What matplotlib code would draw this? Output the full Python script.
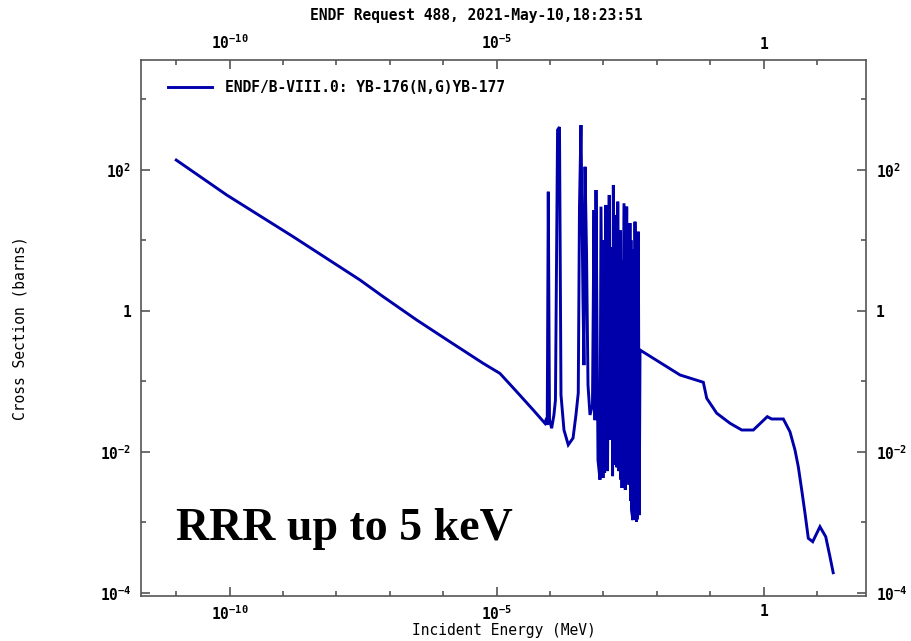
#!/usr/bin/env python3

import math
import matplotlib
matplotlib.use('Agg')
import matplotlib.pyplot as plt
from matplotlib.ticker import FixedLocator, FuncFormatter, NullFormatter

# values, energy in MeV, cross section in barns
energy = [
    1.0e-11, 8.8e-11, 1.55e-9, 2.75e-8, 7.5e-8, 3.18e-7, 1.33e-6, 5.6e-6,
    1.15e-5, 2.37e-5, 4.84e-5, 8.0e-5,
    # resolved resonance region
    8.6e-5, 8.84e-5, 9.25e-5, 9.75e-5, 1.07e-4, 1.18e-4, 1.26e-4, 1.38e-4,
    1.50e-4, 1.60e-4, 1.82e-4, 2.19e-4, 2.69e-4, 3.05e-4, 3.37e-4, 3.55e-4,
    3.79e-4, 4.13e-4, 4.31e-4, 4.51e-4, 4.81e-4, 5.13e-4, 5.59e-4, 6.22e-4,
    6.64e-4, 6.93e-4, 7.24e-4, 7.89e-4, 8.60e-4, 8.98e-4, 9.79e-4, 1.01e-3,
    1.05e-3, 1.11e-3, 1.19e-3, 1.28e-3, 1.35e-3, 1.43e-3, 1.48e-3, 1.53e-3,
    1.60e-3, 1.71e-3, 1.78e-3, 1.85e-3, 1.95e-3, 2.08e-3, 2.12e-3, 2.15e-3,
    2.22e-3, 2.42e-3, 2.56e-3, 2.72e-3, 2.81e-3, 2.91e-3, 3.00e-3, 3.13e-3,
    3.20e-3, 3.27e-3, 3.34e-3, 3.56e-3, 3.69e-3, 3.78e-3, 3.89e-3, 4.15e-3,
    4.24e-3, 4.32e-3, 4.49e-3, 4.67e-3,
    # unresolved / fast region
    4.83e-3, 2.71e-2, 7.40e-2, 8.57e-2, 0.132, 0.234, 0.388, 0.639, 1.167,
    1.41, 2.33, 3.10, 3.85, 4.44, 5.15, 5.93, 6.84, 8.27, 11.3, 14.5, 17.4,
    20.0,
]
xs = [
    137.0, 43.8, 11.2, 2.73, 1.58, 0.738, 0.363, 0.179,
    0.129, 0.071, 0.039, 0.0253,
    0.030, 0.0239, 48.7, 0.0282, 0.0215, 0.0332, 0.054, 366.0,
    403.0, 0.064, 0.0203, 0.0125, 0.0156, 0.0332, 0.068, 29.6,
    430.0, 1.42, 0.169, 110.0, 6.8, 0.088, 0.0332, 0.046,
    26.8, 0.028, 51.5, 0.0076, 0.0040, 29.9, 0.00424, 10.0,
    0.0050, 31.6, 0.0053, 43.8, 0.0147, 8.0, 0.0045, 60.7,
    0.0065, 22.8, 0.0060, 35.2, 0.0053, 13.7, 0.0040, 5.2,
    0.00306, 33.4, 0.00287, 29.9, 0.0040, 5.75, 0.0034, 17.5,
    0.0020, 10.0, 0.00149, 0.00107, 7.3, 0.0011, 18.3, 0.00101,
    11.8, 0.0011, 13.2, 0.00126,
    0.277, 0.1225, 0.0965, 0.0572, 0.0351, 0.0253, 0.0203, 0.0203, 0.0314,
    0.0291, 0.0291, 0.0192, 0.01057, 0.00613, 0.00286, 0.00134, 0.000591,
    0.000529, 0.000863, 0.000622, 0.000324,
    0.000192,
]

x_major = [1e-10, 1e-5, 1.0]
x_minor = [10.0 ** k for k in range(-11, 2) if k not in (-10, -5, 0)]
y_major = [1e-4, 1e-2, 1.0, 1e2]
y_minor = [1e-3, 1e-1, 1e1, 1e3]

title = 'ENDF Request 488, 2021-May-10,18:23:51'
legend_label = 'ENDF/B-VIII.0: YB-176(N,G)YB-177'

plt.rcParams['font.family'] = ['DejaVu Sans Mono']
plt.rcParams['font.weight'] = 'bold'
plt.rcParams['mathtext.default'] = 'regular'

frame_col = '#555555'
line_col = '#0000aa'


def pow_label(v, pos):
    # ENDF style: "1" for unity, 10^n otherwise
    e = int(round(math.log10(v)))
    if e == 0:
        return '1'
    return r'$10^{%d}$' % e


fig = plt.figure(figsize=(9.12, 6.41), dpi=100)
ax = fig.add_axes([0.1546, 0.0702, 0.7950, 0.8362])

ax.plot(energy, xs, color=line_col, lw=2.1, label=legend_label,
        solid_joinstyle='miter')

ax.set_xscale('log')
ax.set_yscale('log')
ax.set_xlim(10 ** -11.66, 10 ** 1.916)
ax.set_ylim(10 ** -4.047, 10 ** 3.556)

ax.xaxis.set_major_locator(FixedLocator(x_major))
ax.xaxis.set_minor_locator(FixedLocator(x_minor))
ax.yaxis.set_major_locator(FixedLocator(y_major))
ax.yaxis.set_minor_locator(FixedLocator(y_minor))
ax.xaxis.set_major_formatter(FuncFormatter(pow_label))
ax.yaxis.set_major_formatter(FuncFormatter(pow_label))
ax.xaxis.set_minor_formatter(NullFormatter())
ax.yaxis.set_minor_formatter(NullFormatter())

for s in ax.spines.values():
    s.set_color(frame_col)
    s.set_linewidth(1.2)

ax.tick_params(which='both', direction='in', color=frame_col, width=1.2,
               top=True, right=True, labeltop=True, labelright=True,
               labelsize=10.5)
ax.tick_params(which='major', length=6.5)
ax.tick_params(which='minor', length=3.8)
ax.tick_params(axis='x', which='major', pad=6)
ax.tick_params(axis='y', which='major', pad=7)

ax.set_xlabel('Incident Energy (MeV)', fontsize=10.5, labelpad=0)
ax.set_ylabel('Cross Section (barns)', fontsize=10.5, labelpad=52)
fig.text(0.522, 0.976, title, ha='center', va='center', fontsize=10.5,
         fontweight='bold')

ax.legend(loc='upper left', bbox_to_anchor=(0.037, 0.962), frameon=False,
          borderpad=0, borderaxespad=0, handlelength=3.0, handletextpad=0.9,
          prop={'family': 'DejaVu Sans Mono', 'weight': 'bold', 'size': 10.5})

ax.text(0.048, 0.1045, 'RRR up to 5 keV', transform=ax.transAxes,
        ha='left', va='baseline', fontsize=33, fontweight='bold',
        family='Liberation Serif', color='black')

fig.savefig('out.png', dpi=100)
